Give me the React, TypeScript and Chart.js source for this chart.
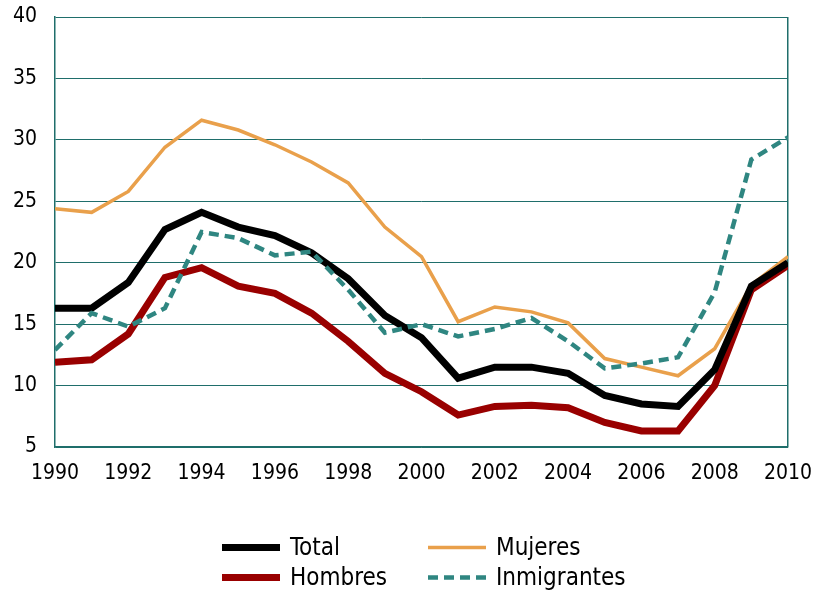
import React, { useEffect, useRef } from "react";
import { Chart, registerables } from "chart.js";

Chart.register(...registerables);

const years = [1990, 1991, 1992, 1993, 1994, 1995, 1996, 1997, 1998, 1999, 2000, 2001, 2002, 2003, 2004, 2005, 2006, 2007, 2008, 2009, 2010];
const total = [16.3, 16.3, 18.4, 22.7, 24.1, 22.9, 22.2, 20.8, 18.7, 15.7, 13.9, 10.6, 11.5, 11.5, 11.0, 9.2, 8.5, 8.3, 11.3, 18.1, 20.0];
const hombres = [11.9, 12.1, 14.2, 18.8, 19.6, 18.1, 17.5, 15.9, 13.6, 11.0, 9.5, 7.6, 8.3, 8.4, 8.2, 7.0, 6.3, 6.3, 10.0, 17.8, 19.8];
const mujeres = [24.4, 24.1, 25.8, 29.4, 31.6, 30.8, 29.6, 28.2, 26.5, 22.9, 20.5, 15.2, 16.4, 16.0, 15.1, 12.2, 11.5, 10.8, 13.0, 18.2, 20.5];
const inmigrantes = [12.9, 15.9, 14.8, 16.3, 22.5, 22.0, 20.6, 20.9, 17.8, 14.3, 15.0, 14.0, 14.6, 15.5, 13.6, 11.4, 11.8, 12.3, 17.6, 28.4, 30.2];
const yTicks = [5, 10, 15, 20, 25, 30, 35, 40];
const xTickYears = [1990, 1992, 1994, 1996, 1998, 2000, 2002, 2004, 2006, 2008, 2010];

const TEAL = "#1f6e6b";
const FONT = "'DejaVu Sans Condensed', 'Noto Sans', sans-serif";

const pts = (vals: number[]) => vals.map((v, i) => ({ x: years[i], y: v }));

const legendPlugin = {
  id: "customLegend",
  afterDraw(chart: any) {
    const ctx = chart.ctx;
    const items = [
      { ds: 0, x: 222, y: 547.5 },
      { ds: 1, x: 222, y: 577.5 },
      { ds: 2, x: 428, y: 547.5 },
      { ds: 3, x: 428, y: 577.5 },
    ];
    ctx.save();
    for (const it of items) {
      const d = chart.data.datasets[it.ds];
      ctx.beginPath();
      ctx.strokeStyle = d.borderColor;
      ctx.lineWidth = d.borderWidth;
      ctx.setLineDash(d.borderDash || []);
      ctx.lineCap = "butt";
      ctx.moveTo(it.x, it.y);
      ctx.lineTo(it.x + 58, it.y);
      ctx.stroke();
      ctx.setLineDash([]);
      ctx.fillStyle = "#000";
      ctx.font = `24px ${FONT}`;
      ctx.textBaseline = "middle";
      ctx.textAlign = "left";
      ctx.fillText(d.label, it.x + 68, it.y + 1);
    }
    ctx.restore();
  },
};

export default function App() {
  const ref = useRef<HTMLCanvasElement | null>(null);
  useEffect(() => {
    if (!ref.current) return;
    const chart = new Chart(ref.current, {
      type: "line",
      data: {
        datasets: [
          { label: "Total", data: pts(total), borderColor: "#000000", backgroundColor: "#000000", borderWidth: 7, pointRadius: 0, tension: 0, order: 1 },
          { label: "Hombres", data: pts(hombres), borderColor: "#990000", backgroundColor: "#990000", borderWidth: 7, pointRadius: 0, tension: 0, order: 2 },
          { label: "Mujeres", data: pts(mujeres), borderColor: "#e9a04b", backgroundColor: "#e9a04b", borderWidth: 3.5, pointRadius: 0, tension: 0, order: 3 },
          { label: "Inmigrantes", data: pts(inmigrantes), borderColor: "#2f8681", backgroundColor: "#2f8681", borderWidth: 4.5, borderDash: [10, 6], pointRadius: 0, tension: 0, order: 0 },
        ] as any,
      },
      options: {
        responsive: false,
        animation: false,
        layout: { padding: { top: 17, right: 25, bottom: 100, left: 0 } },
        plugins: { legend: { display: false }, tooltip: { enabled: false } },
        scales: {
          x: {
            type: "linear",
            min: 1990,
            max: 2010,
            afterBuildTicks: (s: any) => { s.ticks = xTickYears.map((v) => ({ value: v })); },
            afterFit: (s: any) => { s.height = 47; s.paddingLeft = 0; s.paddingRight = 0; },
            ticks: { color: "#000", font: { family: FONT, size: 21 }, padding: 14, maxRotation: 0, autoSkip: false, callback: (v: any) => String(v) },
            grid: {
              drawTicks: false,
              color: (c: any) => (c.tick && c.tick.value === 2010 ? TEAL : "rgba(0,0,0,0)"),
              lineWidth: 1.5,
            },
            border: { display: true, color: TEAL, width: 1.5 },
          },
          y: {
            min: 5,
            max: 40,
            afterBuildTicks: (s: any) => { s.ticks = yTicks.map((v) => ({ value: v })); },
            afterFit: (s: any) => { s.width = 55; s.paddingTop = 0; s.paddingBottom = 0; },
            ticks: { color: "#000", font: { family: FONT, size: 21 }, padding: 18, callback: (v: any) => String(v) },
            grid: { drawTicks: false, color: TEAL, lineWidth: 1 },
            border: { display: true, color: TEAL, width: 1.5 },
          },
        },
      },
      plugins: [legendPlugin],
    });
    return () => chart.destroy();
  }, []);
  return (
    <div style={{ position: "fixed", left: 0, top: 0, width: 813, height: 594, background: "#fff" }}>
      <canvas ref={ref} width={813} height={594} style={{ width: 813, height: 594 }} />
    </div>
  );
}
